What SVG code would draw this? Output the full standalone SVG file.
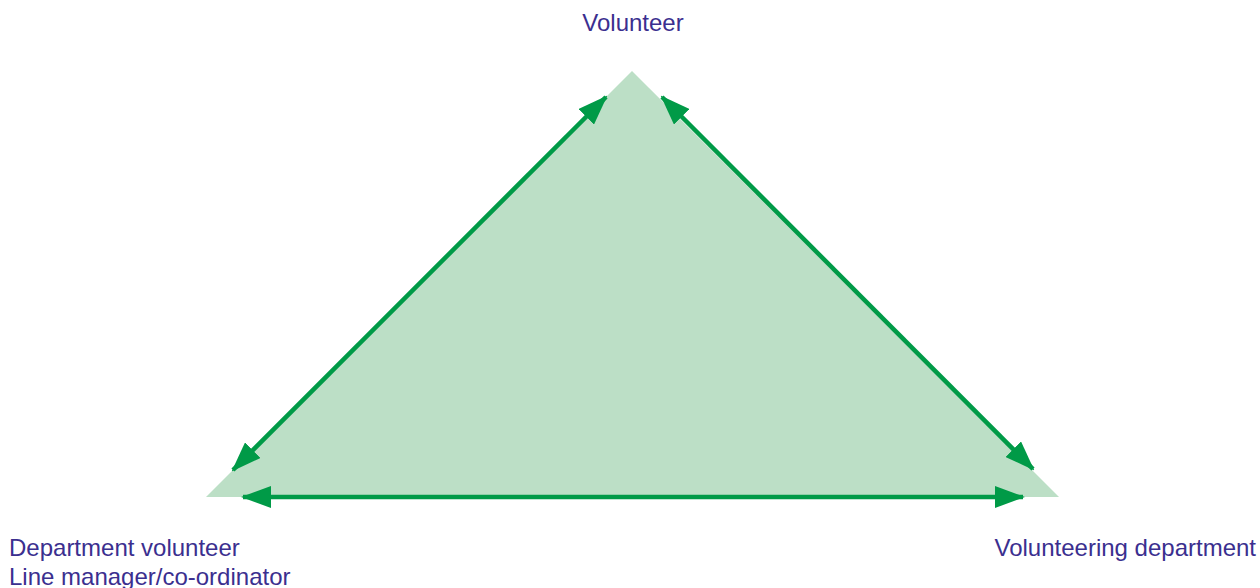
<svg xmlns="http://www.w3.org/2000/svg" width="1260" height="588" viewBox="0 0 1260 588">
<style>
.lbl{font-family:"Liberation Sans",Arial,sans-serif;font-size:24px;fill:#3b2f8f}
.con{stroke:#009a47;stroke-width:4.5;fill:none;marker-start:url(#ah);marker-end:url(#ah)}
</style>
<defs>
<marker id="ah" markerUnits="userSpaceOnUse" markerWidth="30" markerHeight="22" refX="28" refY="11" orient="auto-start-reverse" viewBox="0 0 30 22">
<path d="M0,0 L30,11 L0,22 Z" fill="#009a47"/>
</marker>
</defs>
<g id="triangle">
<polygon points="632,71 206,497 1059,497" fill="#bcdfc6"/>
</g>
<g id="connectors">
<line class="con" x1="233" y1="470" x2="606" y2="97"/>
<line class="con" x1="662" y1="97" x2="1033" y2="469"/>
<line class="con" x1="243" y1="497" x2="1023" y2="497"/>
</g>
<g id="node-volunteer"><text class="lbl" x="633" y="31" text-anchor="middle">Volunteer</text></g>
<g id="node-department"><text class="lbl" x="9" y="556">Department volunteer</text><text class="lbl" x="9" y="585">Line manager/co-ordinator</text></g>
<g id="node-volunteering"><text class="lbl" x="1256" y="556" text-anchor="end">Volunteering department</text></g>
</svg>
